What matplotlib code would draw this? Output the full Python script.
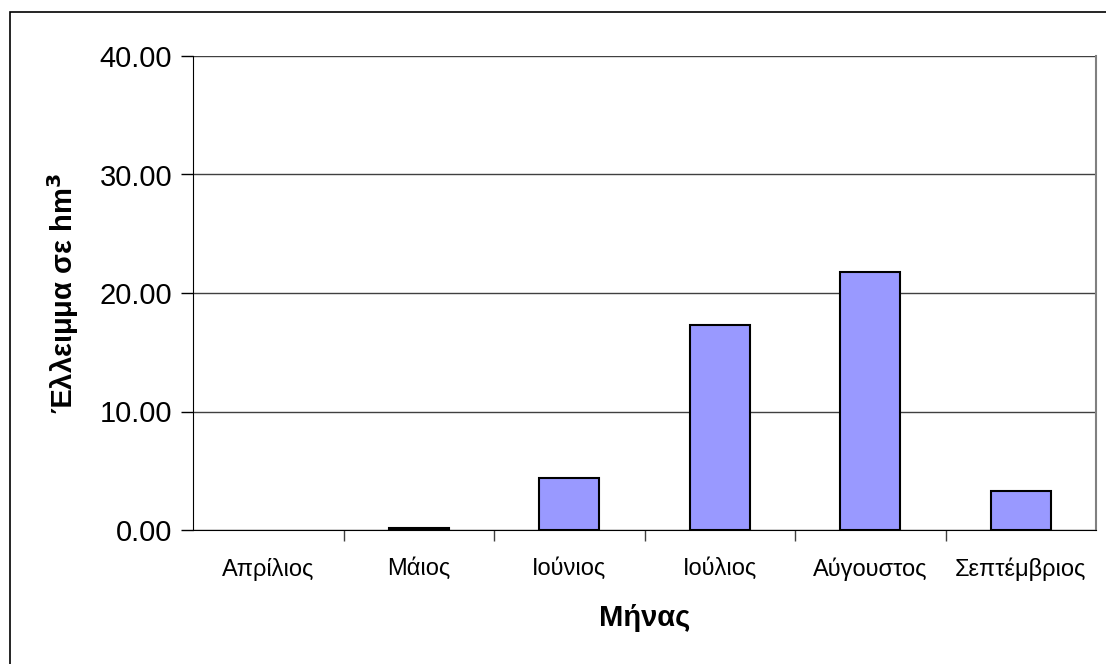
import numpy as np
import matplotlib.pyplot as plt
from matplotlib.patches import Rectangle
from matplotlib.ticker import FixedLocator, FormatStrFormatter

plt.rcParams['font.family'] = ['Liberation Sans', 'DejaVu Sans']

months = ["Απρίλιος", "Μάιος", "Ιούνιος", "Ιούλιος", "Αύγουστος", "Σεπτέμβριος"]
deficit = [0.0, 0.2, 4.4, 17.3, 21.8, 3.3]

fig = plt.figure(figsize=(11.06, 6.64), dpi=100)
ax = fig.add_axes([193 / 1106, 1 - 530 / 664, (1096 - 193) / 1106, (530 - 56) / 664])

# outer chart frame (runs off the right and bottom edges)
fig.patches.append(Rectangle((10 / 1106, -0.1), 1.2, 1 - 12 / 664 + 0.1,
                             transform=fig.transFigure, fill=False,
                             edgecolor="black", linewidth=1.2))

x = np.arange(len(months))
bars = ax.bar(x, deficit, width=0.4, color="#9999FF", edgecolor="black", linewidth=1.5, zorder=3)
# empty months get no outline
for b, v in zip(bars, deficit):
    if v == 0:
        b.set_linewidth(0)

ax.set_xlim(-0.5, len(months) - 0.5)
ax.set_ylim(0, 40)
ax.set_yticks([0, 10, 20, 30, 40])
ax.yaxis.set_major_formatter(FormatStrFormatter("%.2f"))
ax.yaxis.grid(True, color="#404040", linewidth=1.0, zorder=0)

ax.set_xticks(x)
ax.set_xticklabels(months, fontsize=17)
ax.xaxis.set_minor_locator(FixedLocator(np.arange(0.5, len(months) - 0.5, 1)))
ax.tick_params(axis="x", which="major", length=0, pad=20)
ax.tick_params(axis="x", which="minor", length=8, width=1, color="#404040", direction="out")
ax.tick_params(axis="y", which="major", length=9, width=1, labelsize=21, pad=6)

for side in ["top", "right"]:
    ax.spines[side].set_visible(False)
ax.spines["left"].set_color("black")
ax.spines["bottom"].set_color("black")
ax.plot([1, 1], [0, 1], transform=ax.transAxes, color="#808080", linewidth=1.5, clip_on=False)

ax.set_ylabel("Έλλειμμα σε hm$^\\mathbf{3}$", fontsize=21, fontweight="bold", labelpad=13)
ax.set_xlabel("Μήνας", fontsize=21, fontweight="bold", labelpad=16)

fig.savefig("out.png", dpi=100)
